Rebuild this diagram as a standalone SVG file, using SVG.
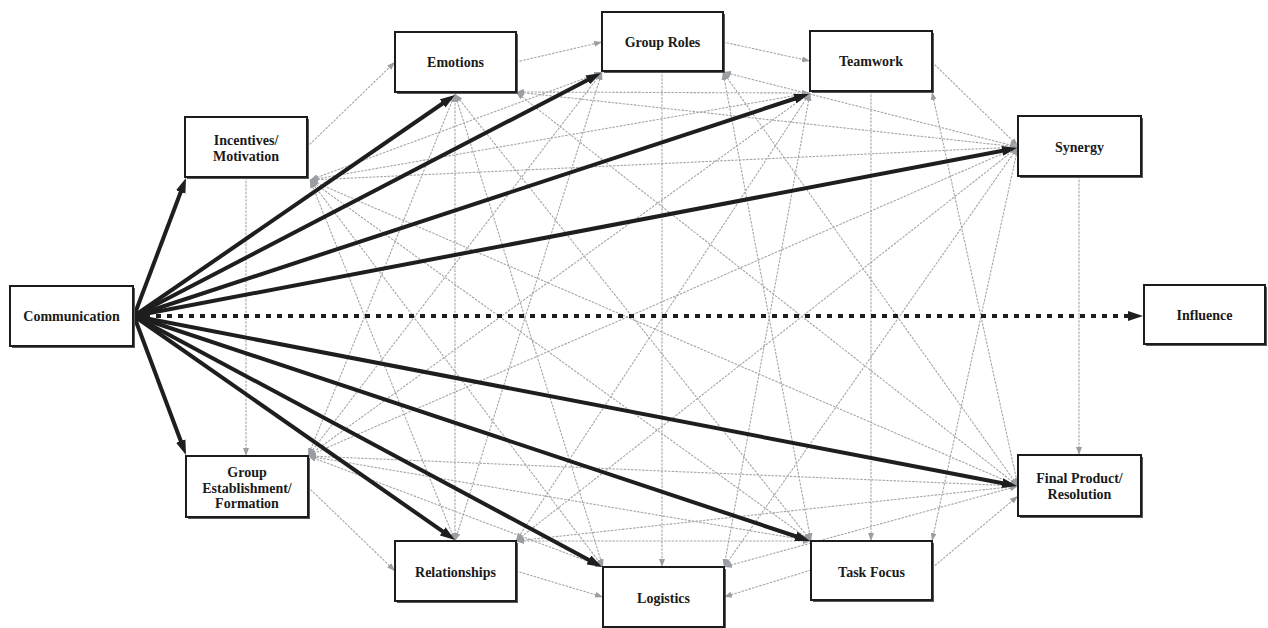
<svg xmlns="http://www.w3.org/2000/svg" width="1268" height="628" viewBox="0 0 1268 628">
  <defs>
    <style>
      .bg { fill: #ffffff; }
      .shadow { fill: #5a5a5a; }
      .box { fill: #ffffff; stroke: #1c1c1c; stroke-width: 2; }
      .lbl { font-family: "Liberation Serif", "Times New Roman", serif; font-weight: bold; font-size: 14px; fill: #1a1a1a; text-anchor: middle; }
      .thin { stroke: #a3a7ab; stroke-width: 1.1; stroke-dasharray: 2.5 1.2; fill: none; marker-end: url(#grayHead); }
      .mesh { marker-start: url(#grayHead); }
      .thick { stroke: #1e1e1e; stroke-width: 4; fill: none; marker-end: url(#blackHead); }
      .dotted { stroke-dasharray: 5 6; }
    </style>
    <marker id="grayHead" markerUnits="userSpaceOnUse" viewBox="0 0 8 6" markerWidth="8" markerHeight="6" refX="8" refY="3" orient="auto-start-reverse">
      <path d="M0,0 L8,3 L0,6 z" fill="#9a9ea2"/>
    </marker>
    <marker id="blackHead" markerUnits="userSpaceOnUse" viewBox="0 0 15 10" markerWidth="15" markerHeight="10" refX="7" refY="5" orient="auto">
      <path d="M0,0 L15,5 L0,10 z" fill="#1e1e1e"/>
    </marker>
  </defs>

  <rect class="bg" x="0" y="0" width="1268" height="628"/>

  <!-- thin grey links between the outer ring of nodes -->
  <g id="connectors-mesh">
    <!-- neighbours around the ring -->
    <line class="thin" x1="307" y1="147" x2="395" y2="62"/>
    <line class="thin" x1="516" y1="62" x2="602" y2="42"/>
    <line class="thin" x1="723" y1="42" x2="810" y2="61"/>
    <line class="thin" x1="932" y1="62" x2="1018" y2="146"/>
    <line class="thin" x1="1079" y1="176" x2="1079" y2="455"/>
    <line class="thin" x1="932" y1="568" x2="1018" y2="496"/>
    <line class="thin" x1="811" y1="570" x2="724" y2="597"/>
    <line class="thin" x1="516" y1="571" x2="603" y2="597"/>
    <line class="thin" x1="308" y1="487" x2="395" y2="571"/>
    <line class="thin" x1="246" y1="177" x2="246" y2="456"/>
    <!-- verticals top to bottom -->
    <line class="thin" x1="455" y1="92" x2="455" y2="541"/>
    <line class="thin" x1="662" y1="71" x2="662" y2="567"/>
    <line class="thin" x1="871" y1="91" x2="871" y2="541"/>
    <!-- Incentives/Motivation -->
    <line class="thin mesh" x1="310" y1="180" x2="602" y2="72"/>
    <line class="thin mesh" x1="310" y1="180" x2="810" y2="93"/>
    <line class="thin mesh" x1="310" y1="180" x2="1018" y2="147"/>
    <line class="thin mesh" x1="310" y1="180" x2="1018" y2="486"/>
    <line class="thin mesh" x1="310" y1="180" x2="811" y2="541"/>
    <line class="thin mesh" x1="310" y1="180" x2="603" y2="567"/>
    <line class="thin mesh" x1="310" y1="180" x2="455" y2="541"/>
    <!-- Emotions -->
    <line class="thin mesh" x1="516" y1="92" x2="810" y2="93"/>
    <line class="thin mesh" x1="516" y1="92" x2="1018" y2="147"/>
    <line class="thin mesh" x1="516" y1="92" x2="1018" y2="486"/>
    <line class="thin mesh" x1="455" y1="94" x2="811" y2="541"/>
    <line class="thin mesh" x1="455" y1="94" x2="603" y2="567"/>
    <line class="thin mesh" x1="455" y1="94" x2="308" y2="456"/>
    <!-- Group Roles -->
    <line class="thin mesh" x1="723" y1="72" x2="1018" y2="147"/>
    <line class="thin mesh" x1="723" y1="72" x2="1018" y2="486"/>
    <line class="thin mesh" x1="723" y1="72" x2="811" y2="541"/>
    <line class="thin mesh" x1="602" y1="72" x2="455" y2="541"/>
    <line class="thin mesh" x1="602" y1="72" x2="308" y2="456"/>
    <!-- Teamwork -->
    <line class="thin mesh" x1="932" y1="92" x2="1018" y2="486"/>
    <line class="thin mesh" x1="810" y1="93" x2="724" y2="567"/>
    <line class="thin mesh" x1="810" y1="93" x2="516" y2="541"/>
    <line class="thin mesh" x1="810" y1="93" x2="308" y2="456"/>
    <!-- Synergy -->
    <line class="thin mesh" x1="1018" y1="147" x2="932" y2="541"/>
    <line class="thin mesh" x1="1018" y1="147" x2="724" y2="567"/>
    <line class="thin mesh" x1="1018" y1="147" x2="516" y2="541"/>
    <line class="thin mesh" x1="1018" y1="147" x2="308" y2="456"/>
    <!-- Final Product/Resolution -->
    <line class="thin mesh" x1="1018" y1="486" x2="724" y2="567"/>
    <line class="thin mesh" x1="1018" y1="486" x2="516" y2="541"/>
    <line class="thin mesh" x1="1018" y1="486" x2="308" y2="456"/>
    <!-- Task Focus, Logistics -->
    <line class="thin mesh" x1="811" y1="541" x2="516" y2="541"/>
    <line class="thin mesh" x1="811" y1="541" x2="308" y2="456"/>
    <line class="thin mesh" x1="603" y1="567" x2="308" y2="456"/>
  </g>

  <!-- heavy arrows out of Communication -->
  <g id="connectors-communication">
    <line class="thick" x1="134" y1="316" x2="183.2" y2="185.5"/>
    <line class="thick" x1="134" y1="316" x2="448.4" y2="99.5"/>
    <line class="thick" x1="134" y1="316" x2="593.9" y2="76.7"/>
    <line class="thick" x1="134" y1="316" x2="801.4" y2="96.5"/>
    <line class="thick" x1="134" y1="316" x2="1009.1" y2="149.5"/>
    <line class="thick dotted" x1="134" y1="316" x2="1135" y2="316"/>
    <line class="thick" x1="134" y1="316" x2="1009.1" y2="484.5"/>
    <line class="thick" x1="134" y1="316" x2="802.4" y2="538.5"/>
    <line class="thick" x1="134" y1="316" x2="595.0" y2="563.2"/>
    <line class="thick" x1="134" y1="316" x2="448.4" y2="535.4"/>
    <line class="thick" x1="134" y1="316" x2="183.2" y2="447.5"/>
  </g>

  <g id="node-communication">
    <rect class="shadow" x="12" y="288" width="123" height="60"/>
    <rect class="box" x="10" y="286" width="123" height="60"/>
    <text class="lbl" x="71.5" y="320.5">Communication</text>
  </g>
  <g id="node-incentives">
    <rect class="shadow" x="187" y="119" width="122" height="60"/>
    <rect class="box" x="185" y="117" width="122" height="60"/>
    <text class="lbl" x="246" y="144.5">Incentives/</text>
    <text class="lbl" x="246" y="160.5">Motivation</text>
  </g>
  <g id="node-emotions">
    <rect class="shadow" x="397" y="34" width="121" height="60"/>
    <rect class="box" x="395" y="32" width="121" height="60"/>
    <text class="lbl" x="455.5" y="66.5">Emotions</text>
  </g>
  <g id="node-group-roles">
    <rect class="shadow" x="604" y="14" width="121" height="59"/>
    <rect class="box" x="602" y="12" width="121" height="59"/>
    <text class="lbl" x="662.5" y="46.5">Group Roles</text>
  </g>
  <g id="node-teamwork">
    <rect class="shadow" x="812" y="33" width="122" height="60"/>
    <rect class="box" x="810" y="31" width="122" height="60"/>
    <text class="lbl" x="871" y="65.5">Teamwork</text>
  </g>
  <g id="node-synergy">
    <rect class="shadow" x="1020" y="118" width="123" height="60"/>
    <rect class="box" x="1018" y="116" width="123" height="60"/>
    <text class="lbl" x="1079.5" y="151.5">Synergy</text>
  </g>
  <g id="node-influence">
    <rect class="shadow" x="1146" y="287" width="121" height="59"/>
    <rect class="box" x="1144" y="285" width="121" height="59"/>
    <text class="lbl" x="1204.5" y="319.5">Influence</text>
  </g>
  <g id="node-final-product">
    <rect class="shadow" x="1020" y="457" width="123" height="61"/>
    <rect class="box" x="1018" y="455" width="123" height="61"/>
    <text class="lbl" x="1079.5" y="482.5">Final Product/</text>
    <text class="lbl" x="1079.5" y="498.5">Resolution</text>
  </g>
  <g id="node-task-focus">
    <rect class="shadow" x="813" y="543" width="121" height="59"/>
    <rect class="box" x="811" y="541" width="121" height="59"/>
    <text class="lbl" x="871.5" y="576.5">Task Focus</text>
  </g>
  <g id="node-logistics">
    <rect class="shadow" x="605" y="569" width="121" height="60"/>
    <rect class="box" x="603" y="567" width="121" height="60"/>
    <text class="lbl" x="663.5" y="602.5">Logistics</text>
  </g>
  <g id="node-relationships">
    <rect class="shadow" x="397" y="543" width="121" height="60"/>
    <rect class="box" x="395" y="541" width="121" height="60"/>
    <text class="lbl" x="455.5" y="576.5">Relationships</text>
  </g>
  <g id="node-group-establishment">
    <rect class="shadow" x="188" y="458" width="122" height="61"/>
    <rect class="box" x="186" y="456" width="122" height="61"/>
    <text class="lbl" x="247" y="476.5">Group</text>
    <text class="lbl" x="247" y="492.5">Establishment/</text>
    <text class="lbl" x="247" y="507.5">Formation</text>
  </g>
</svg>
